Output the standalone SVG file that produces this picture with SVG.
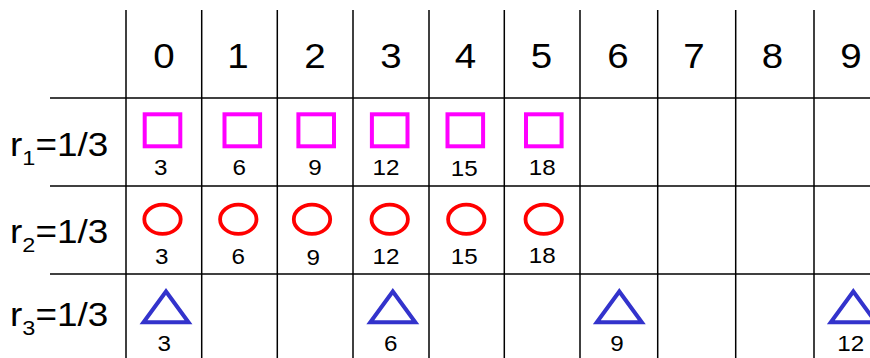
<svg xmlns="http://www.w3.org/2000/svg" width="870" height="358" viewBox="0 0 870 358">
<style>
text{font-family:"Liberation Sans",Arial,sans-serif;fill:#000}
.h{font-size:35px;text-anchor:middle}
.n{font-size:22px;text-anchor:middle}
.l{font-size:33px}
.grid line{stroke:#000;stroke-width:1.5}
.sq{fill:none;stroke:#ff00ff;stroke-width:4}
.ci{fill:none;stroke:#ff0000;stroke-width:3.8}
.tr{fill:none;stroke:#3333cc;stroke-width:4}
</style>
<g id="connectors" class="grid">
<line x1="126" y1="10" x2="126" y2="358"/>
<line x1="201.7" y1="10" x2="201.7" y2="358"/>
<line x1="277.3" y1="10" x2="277.3" y2="358"/>
<line x1="353" y1="10" x2="353" y2="358"/>
<line x1="429" y1="10" x2="429" y2="358"/>
<line x1="504.3" y1="10" x2="504.3" y2="358"/>
<line x1="580" y1="10" x2="580" y2="358"/>
<line x1="657.7" y1="10" x2="657.7" y2="358"/>
<line x1="735.7" y1="10" x2="735.7" y2="358"/>
<line x1="814" y1="10" x2="814" y2="358"/>
<line x1="50" y1="98" x2="870" y2="98"/>
<line x1="50" y1="186" x2="870" y2="186"/>
<line x1="50" y1="274" x2="870" y2="274"/>
</g>
<g id="header">
<text class="h" transform="translate(164 68) scale(1.1 1)">0</text>
<text class="h" transform="translate(238 68) scale(1.1 1)">1</text>
<text class="h" transform="translate(315 68) scale(1.1 1)">2</text>
<text class="h" transform="translate(391 68) scale(1.1 1)">3</text>
<text class="h" transform="translate(465.5 68) scale(1.1 1)">4</text>
<text class="h" transform="translate(541.5 68) scale(1.1 1)">5</text>
<text class="h" transform="translate(618 68) scale(1.1 1)">6</text>
<text class="h" transform="translate(694 68) scale(1.1 1)">7</text>
<text class="h" transform="translate(772.5 68) scale(1.1 1)">8</text>
<text class="h" transform="translate(851 68) scale(1.1 1)">9</text>
</g>
<g id="row-labels">
<text class="l" transform="translate(10 156) scale(1.12 1)">r<tspan font-size="21" dy="9">1</tspan><tspan dy="-9">=1/3</tspan></text>
<text class="l" transform="translate(10 243) scale(1.12 1)">r<tspan font-size="21" dy="9">2</tspan><tspan dy="-9">=1/3</tspan></text>
<text class="l" transform="translate(10 326) scale(1.12 1)">r<tspan font-size="21" dy="9">3</tspan><tspan dy="-9">=1/3</tspan></text>
</g>
<g id="row1">
<g id="r1c0"><rect class="sq" x="144.7" y="114.3" width="35.6" height="32"/><text class="n" transform="translate(160.8 175) scale(1.1 1)">3</text></g>
<g id="r1c1"><rect class="sq" x="224.5" y="114.3" width="35.6" height="32"/><text class="n" transform="translate(239.2 175) scale(1.1 1)">6</text></g>
<g id="r1c2"><rect class="sq" x="298.4" y="114.3" width="35.6" height="32"/><text class="n" transform="translate(315 175) scale(1.1 1)">9</text></g>
<g id="r1c3"><rect class="sq" x="371.9" y="114.3" width="35.6" height="32"/><text class="n" transform="translate(386 175) scale(1.1 1)">12</text></g>
<g id="r1c4"><rect class="sq" x="447.5" y="114.3" width="35.6" height="32"/><text class="n" transform="translate(464.3 175.5) scale(1.1 1)">15</text></g>
<g id="r1c5"><rect class="sq" x="526" y="114.3" width="35.6" height="32"/><text class="n" transform="translate(542.3 175) scale(1.1 1)">18</text></g>
</g>
<g id="row2">
<g id="r2c0"><ellipse class="ci" cx="162.5" cy="219.3" rx="18.2" ry="14.6"/><text class="n" transform="translate(161.7 263.5) scale(1.1 1)">3</text></g>
<g id="r2c1"><ellipse class="ci" cx="238.3" cy="219.3" rx="18.2" ry="14.6"/><text class="n" transform="translate(238.3 263.5) scale(1.1 1)">6</text></g>
<g id="r2c2"><ellipse class="ci" cx="312" cy="219.3" rx="18.2" ry="14.6"/><text class="n" transform="translate(313.3 264.5) scale(1.1 1)">9</text></g>
<g id="r2c3"><ellipse class="ci" cx="389.7" cy="219.3" rx="18.2" ry="14.6"/><text class="n" transform="translate(386 263.5) scale(1.1 1)">12</text></g>
<g id="r2c4"><ellipse class="ci" cx="466.3" cy="219.3" rx="18.2" ry="14.6"/><text class="n" transform="translate(464.3 264) scale(1.1 1)">15</text></g>
<g id="r2c5"><ellipse class="ci" cx="543.7" cy="219.3" rx="18.2" ry="14.6"/><text class="n" transform="translate(542.3 263) scale(1.1 1)">18</text></g>
</g>
<g id="row3">
<g id="r3c0"><polygon class="tr" points="166,291.5 143.5,322.3 188.5,322.3"/><text class="n" transform="translate(164.2 350.5) scale(1.1 1)">3</text></g>
<g id="r3c3"><polygon class="tr" points="392.8,291.5 370.3,322.3 415.3,322.3"/><text class="n" transform="translate(390.8 350.5) scale(1.1 1)">6</text></g>
<g id="r3c6"><polygon class="tr" points="619.3,291.5 596.8,322.3 641.8,322.3"/><text class="n" transform="translate(617 350.5) scale(1.1 1)">9</text></g>
<g id="r3c9"><polygon class="tr" points="853.3,291.5 830.8,322.3 875.8,322.3"/><text class="n" transform="translate(850.8 350.5) scale(1.1 1)">12</text></g>
</g>
</svg>
